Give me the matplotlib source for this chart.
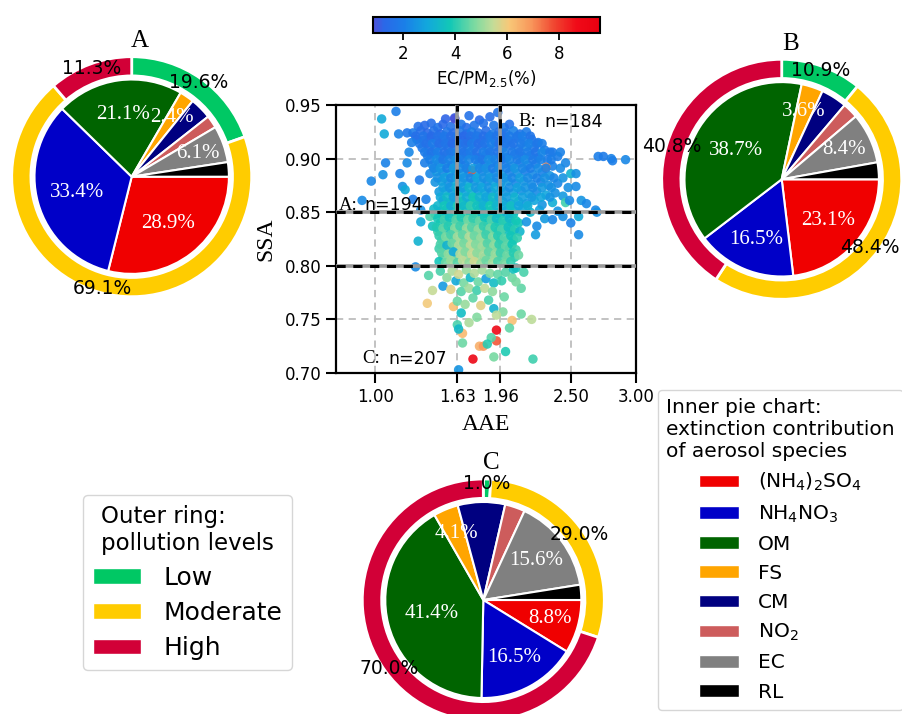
import matplotlib
matplotlib.use("Agg")
import matplotlib.pyplot as plt
from matplotlib.colors import LinearSegmentedColormap, Normalize
from matplotlib.patches import Patch
import numpy as np

# ---------------------------------------------------------------- data
species = [r"(NH$_4$)$_2$SO$_4$", r"NH$_4$NO$_3$", "OM", "FS", "CM", r"NO$_2$", "EC", "RL"]
species_colors = ["#f00000", "#0000c8", "#006400", "#ffa500", "#000080", "#cd5c5c", "#808080", "#000000"]
labelled_species = [0, 1, 2, 3, 6]

levels = ["Low", "Moderate", "High"]
level_colors = ["#00c864", "#ffcc00", "#d20037"]

# extinction contribution (%) of each species, per SSA/AAE class
inner_A = [28.9, 33.4, 21.1, 2.4, 3.6, 2.1, 6.1, 2.4]
inner_B = [23.1, 16.5, 38.7, 3.6, 4.3, 2.6, 8.4, 2.8]
inner_C = [8.8, 16.5, 41.4, 4.1, 7.8, 3.3, 15.6, 2.5]

# share (%) of pollution levels, per class
outer_A = [19.6, 69.1, 11.3]
outer_B = [10.9, 48.4, 40.8]
outer_C = [1.0, 29.0, 70.0]

class_counts = {"A": 194, "B": 184, "C": 207}
aae_splits = [1.63, 1.96]
ssa_splits = [0.80, 0.85]
aae_ticks = [1.00, 1.63, 1.96, 2.50, 3.00]
ssa_ticks = [0.70, 0.75, 0.80, 0.85, 0.90, 0.95]
ec_ticks = [2, 4, 6, 8]

# (AAE, SSA, EC/PM2.5 %) observations
top_edge = [
    (1.16, 0.944, 2.0), (1.05, 0.937, 3.0), (1.54, 0.937, 1.2), (1.61, 0.938, 1.1),
    (1.72, 0.940, 1.6), (1.80, 0.936, 1.4), (1.94, 0.943, 1.7), (1.88, 0.939, 1.5),
    (1.33, 0.930, 1.6), (1.38, 0.931, 1.4), (1.43, 0.933, 1.5), (1.48, 0.929, 1.7),
    (1.52, 0.932, 1.3), (1.58, 0.930, 1.6), (1.66, 0.932, 1.8), (1.70, 0.929, 1.5),
    (1.76, 0.931, 1.7), (1.83, 0.933, 1.6), (1.91, 0.931, 1.8), (1.99, 0.929, 1.9),
    (2.03, 0.932, 1.6),
]
top_blob = [
    (1.29, 0.924, 1.9), (1.35, 0.926, 1.5), (1.40, 0.924, 1.3), (1.45, 0.926, 1.6),
    (1.50, 0.923, 1.4), (1.55, 0.925, 1.7), (1.60, 0.924, 1.5), (1.65, 0.926, 1.8),
    (1.70, 0.923, 1.6), (1.74, 0.925, 2.0), (1.79, 0.924, 1.7), (1.85, 0.926, 1.5),
    (1.90, 0.923, 1.9), (1.95, 0.925, 1.6), (2.00, 0.924, 1.8), (2.06, 0.926, 2.1),
    (2.11, 0.923, 1.7), (2.16, 0.925, 1.9),
    (1.32, 0.918, 1.7), (1.37, 0.917, 1.6), (1.42, 0.919, 1.4), (1.47, 0.917, 1.8),
    (1.52, 0.918, 1.5), (1.57, 0.916, 1.7), (1.62, 0.919, 1.4), (1.67, 0.917, 1.9),
    (1.71, 0.916, 1.2), (1.76, 0.918, 1.8), (1.81, 0.917, 1.6), (1.86, 0.919, 2.0),
    (1.92, 0.916, 1.7), (1.97, 0.918, 1.9), (2.02, 0.917, 1.6), (2.08, 0.919, 1.8),
    (2.14, 0.916, 2.0), (2.20, 0.918, 1.7), (2.25, 0.915, 1.9),
    (1.36, 0.910, 1.8), (1.41, 0.911, 1.5), (1.46, 0.909, 1.7), (1.51, 0.912, 1.9),
    (1.56, 0.910, 1.6), (1.61, 0.911, 2.0), (1.66, 0.909, 1.7), (1.71, 0.911, 2.3),
    (1.76, 0.910, 1.8), (1.82, 0.912, 1.6), (1.87, 0.909, 2.1), (1.93, 0.911, 1.8),
    (1.98, 0.910, 2.0), (2.04, 0.912, 1.7), (2.10, 0.909, 1.9), (2.16, 0.911, 2.2),
    (2.22, 0.910, 1.8), (2.30, 0.908, 2.0), (2.36, 0.906, 1.9),
    (1.40, 0.903, 1.9), (1.45, 0.904, 2.2), (1.50, 0.902, 1.8), (1.55, 0.904, 2.4),
    (1.60, 0.903, 2.0), (1.65, 0.902, 2.6), (1.70, 0.904, 1.9), (1.75, 0.903, 2.2),
    (1.80, 0.901, 1.8), (1.85, 0.904, 2.0), (1.90, 0.902, 2.3), (1.96, 0.903, 1.9),
    (2.01, 0.901, 2.1), (2.07, 0.904, 1.8), (2.13, 0.902, 2.0), (2.19, 0.903, 1.7),
    (2.25, 0.901, 2.1), (2.32, 0.899, 1.9), (2.40, 0.902, 2.0), (2.46, 0.896, 2.2),
    (1.38, 0.896, 2.0), (1.44, 0.894, 2.3), (1.49, 0.896, 2.1), (1.54, 0.895, 2.7),
    (1.59, 0.894, 2.2), (1.64, 0.896, 2.5), (1.69, 0.894, 2.1), (1.79, 0.895, 2.4),
    (1.84, 0.894, 2.0), (1.89, 0.896, 2.6), (1.94, 0.894, 2.2), (1.99, 0.895, 2.0),
    (2.05, 0.893, 2.3), (2.11, 0.896, 1.9), (2.17, 0.894, 2.2), (2.23, 0.895, 2.0),
    (2.36, 0.893, 2.1), (2.42, 0.891, 2.3),
    (1.42, 0.886, 2.2), (1.47, 0.888, 2.6), (1.52, 0.887, 2.3), (1.57, 0.886, 2.9),
    (1.62, 0.888, 2.4), (1.67, 0.886, 2.7), (1.72, 0.887, 2.3), (1.77, 0.885, 2.8),
    (1.82, 0.888, 2.2), (1.87, 0.886, 2.5), (1.92, 0.887, 2.3), (1.97, 0.885, 2.6),
    (2.03, 0.887, 2.1), (2.09, 0.886, 2.4), (2.15, 0.888, 2.0), (2.21, 0.885, 2.3),
    (2.28, 0.887, 2.1), (2.34, 0.884, 2.5), (2.50, 0.886, 3.2), (2.54, 0.886, 2.4),
    (1.34, 0.880, 1.9), (1.46, 0.878, 2.5), (1.51, 0.879, 2.8), (1.56, 0.877, 2.4),
    (1.61, 0.879, 3.0), (1.66, 0.878, 2.6), (1.71, 0.877, 2.9), (1.76, 0.879, 2.5),
    (1.81, 0.877, 2.7), (1.86, 0.879, 2.3), (1.91, 0.878, 2.8), (1.96, 0.877, 2.4),
    (2.02, 0.879, 2.6), (2.08, 0.877, 2.2), (2.14, 0.879, 2.5), (2.20, 0.876, 2.3),
    (2.27, 0.878, 2.1), (2.33, 0.875, 2.4), (2.40, 0.877, 2.2), (2.48, 0.873, 2.4),
    (2.54, 0.874, 2.3),
    (1.49, 0.869, 2.7), (1.54, 0.870, 3.1), (1.59, 0.868, 2.8), (1.64, 0.870, 3.3),
    (1.69, 0.869, 2.9), (1.74, 0.867, 3.2), (1.79, 0.870, 2.7), (1.84, 0.868, 3.0),
    (1.89, 0.869, 2.6), (1.94, 0.867, 2.9), (2.00, 0.869, 2.5), (2.06, 0.868, 2.8),
    (2.12, 0.870, 2.4), (2.18, 0.867, 2.7), (2.24, 0.869, 2.3), (2.31, 0.866, 2.9),
    (2.38, 0.868, 2.4), (2.44, 0.865, 2.6),
    (1.29, 0.862, 2.0), (1.39, 0.862, 2.1), (1.52, 0.861, 3.0), (1.57, 0.859, 3.4),
    (1.62, 0.861, 3.1), (1.67, 0.860, 3.6), (1.72, 0.858, 3.2), (1.77, 0.861, 3.5),
    (1.82, 0.859, 3.0), (1.87, 0.861, 3.3), (1.92, 0.859, 2.9), (1.98, 0.860, 3.2),
    (2.04, 0.858, 2.8), (2.10, 0.860, 3.0), (2.16, 0.858, 2.6), (2.22, 0.861, 2.9),
    (2.28, 0.857, 2.5), (2.36, 0.859, 3.1), (2.46, 0.859, 4.2), (2.49, 0.861, 2.3),
    (2.58, 0.861, 2.5), (2.62, 0.858, 2.2),
    (1.35, 0.852, 2.4), (1.45, 0.853, 3.4), (1.50, 0.851, 3.2), (1.55, 0.853, 3.7),
    (1.60, 0.851, 3.3), (1.65, 0.853, 3.9), (1.70, 0.852, 3.5), (1.75, 0.850, 3.8),
    (1.80, 0.853, 3.4), (1.85, 0.851, 3.7), (1.90, 0.852, 3.2), (1.95, 0.850, 3.6),
    (2.01, 0.852, 3.1), (2.07, 0.851, 3.4), (2.13, 0.853, 3.0), (2.19, 0.850, 3.3),
    (2.26, 0.852, 2.8), (2.40, 0.851, 2.5), (2.69, 0.852, 2.2), (2.70, 0.850, 2.4),
    (1.74, 0.889, 7.6), (2.31, 0.892, 7.0), (1.71, 0.916, 1.0), (1.61, 0.937, 0.9),
]
# further observations inside the dense cores, listed as (SSA, AAE values, EC values)
top_rows = [
    (0.921, [1.31, 1.37, 1.43, 1.48, 1.53, 1.58, 1.63, 1.68, 1.73, 1.78, 1.83, 1.88, 1.93, 1.98, 2.03, 2.09, 2.13, 2.19],
            [1.5, 1.7, 1.4, 1.6, 1.8, 1.5, 1.7, 1.3, 1.6, 1.8, 1.5, 1.9, 1.7, 1.6, 1.9, 1.8, 2.0, 1.7]),
    (0.914, [1.34, 1.39, 1.44, 1.49, 1.54, 1.59, 1.64, 1.69, 1.74, 1.79, 1.84, 1.89, 1.95, 2.00, 2.06, 2.12, 2.18, 2.24, 2.28],
            [1.8, 1.6, 1.9, 1.5, 1.7, 1.4, 1.8, 1.6, 1.9, 1.5, 1.7, 2.0, 1.6, 1.8, 1.7, 1.9, 2.1, 1.8, 2.0]),
    (0.906, [1.38, 1.43, 1.48, 1.53, 1.58, 1.63, 1.68, 1.73, 1.78, 1.83, 1.88, 1.94, 1.99, 2.05, 2.11, 2.17, 2.23, 2.28, 2.34, 2.42],
            [1.9, 1.7, 2.0, 1.6, 1.8, 2.1, 1.7, 1.9, 1.6, 2.0, 1.8, 1.7, 2.1, 1.9, 1.8, 2.0, 1.7, 2.2, 1.9, 2.1]),
    (0.899, [1.42, 1.47, 1.52, 1.57, 1.62, 1.67, 1.72, 1.77, 1.82, 1.87, 1.92, 1.97, 2.03, 2.09, 2.15, 2.21, 2.27, 2.35],
            [2.0, 2.3, 1.8, 2.1, 2.4, 1.9, 2.2, 2.0, 1.8, 2.3, 2.1, 1.9, 2.2, 2.0, 2.3, 1.9, 2.1, 2.0]),
    (0.891, [1.45, 1.50, 1.55, 1.60, 1.65, 1.70, 1.75, 1.80, 1.85, 1.90, 1.95, 2.01, 2.07, 2.13, 2.19, 2.25, 2.31],
            [2.2, 2.5, 2.0, 2.6, 2.3, 2.1, 2.7, 2.2, 2.4, 2.0, 2.3, 2.1, 2.5, 2.2, 2.0, 2.3, 2.1]),
    (0.882, [1.48, 1.53, 1.58, 1.63, 1.68, 1.73, 1.78, 1.83, 1.88, 1.93, 1.99, 2.05, 2.11, 2.17, 2.24, 2.30, 2.37, 2.44],
            [2.4, 2.7, 2.3, 2.8, 2.5, 2.2, 2.9, 2.4, 2.6, 2.3, 2.5, 2.2, 2.7, 2.3, 2.1, 2.4, 2.2, 2.5]),
    (0.873, [1.52, 1.57, 1.62, 1.67, 1.72, 1.77, 1.82, 1.87, 1.92, 1.97, 2.03, 2.09, 2.15, 2.21, 2.28, 2.35],
            [2.8, 2.5, 3.1, 2.7, 3.3, 2.6, 2.9, 2.5, 3.0, 2.7, 2.4, 2.8, 2.5, 2.3, 2.6, 2.4]),
    (0.864, [1.50, 1.55, 1.60, 1.65, 1.70, 1.75, 1.80, 1.85, 1.90, 1.95, 2.01, 2.07, 2.13, 2.20, 2.27, 2.34],
            [3.0, 3.4, 2.8, 3.6, 3.1, 3.8, 3.2, 2.9, 3.4, 3.0, 2.7, 3.2, 2.8, 2.6, 2.9, 2.5]),
    (0.856, [1.48, 1.53, 1.58, 1.63, 1.68, 1.73, 1.78, 1.83, 1.88, 1.93, 1.98, 2.04, 2.10, 2.17],
            [3.3, 3.7, 3.1, 3.9, 3.4, 4.1, 3.6, 3.2, 3.8, 3.3, 3.0, 3.5, 2.9, 3.1]),
]
mid_rows = [
    (0.848, [1.46, 1.51, 1.55, 1.60, 1.64, 1.69, 1.73, 1.78, 1.82, 1.87, 1.91, 1.96, 2.01, 2.06],
            [3.6, 4.0, 3.4, 4.3, 3.8, 4.5, 3.9, 4.2, 3.5, 4.0, 3.3, 3.8, 3.2, 3.6]),
    (0.840, [1.50, 1.54, 1.59, 1.63, 1.68, 1.72, 1.77, 1.81, 1.86, 1.90, 1.95, 2.00, 2.05, 2.10],
            [4.0, 3.5, 4.4, 4.7, 4.1, 5.0, 4.3, 4.6, 3.8, 4.4, 3.6, 4.1, 3.4, 3.7]),
    (0.832, [1.48, 1.52, 1.57, 1.61, 1.66, 1.70, 1.75, 1.79, 1.84, 1.88, 1.93, 1.97, 2.02, 2.06],
            [4.2, 4.6, 3.4, 4.9, 4.4, 5.2, 4.5, 4.8, 4.0, 4.6, 3.8, 4.2, 3.5, 3.9]),
    (0.824, [1.51, 1.56, 1.60, 1.65, 1.69, 1.74, 1.78, 1.83, 1.87, 1.92, 1.96, 2.01, 2.06],
            [4.5, 4.9, 4.2, 5.2, 4.6, 5.5, 4.8, 5.0, 4.3, 4.9, 4.0, 4.4, 3.9]),
    (0.816, [1.49, 1.53, 1.58, 1.62, 1.67, 1.71, 1.76, 1.80, 1.85, 1.89, 1.94, 1.98, 2.03],
            [4.2, 4.7, 5.0, 4.4, 5.4, 4.8, 5.6, 4.9, 4.5, 5.1, 4.2, 4.6, 3.8]),
    (0.808, [1.52, 1.57, 1.61, 1.66, 1.70, 1.75, 1.79, 1.84, 1.88, 1.93, 1.97, 2.02, 2.07],
            [4.6, 5.1, 4.4, 5.5, 4.9, 5.7, 5.0, 4.3, 4.8, 5.2, 4.4, 4.7, 4.1]),
]
left_outliers = [
    (1.07, 0.923, 3.0), (1.18, 0.923, 2.1), (1.245, 0.924, 1.8), (1.28, 0.915, 2.0),
    (1.26, 0.906, 2.2), (1.08, 0.896, 2.1), (1.245, 0.896, 2.3), (1.06, 0.885, 2.4),
    (0.97, 0.879, 2.2), (1.19, 0.886, 2.1), (1.21, 0.874, 2.4), (1.23, 0.871, 3.0),
    (0.90, 0.861, 2.3),
]
right_tail = [
    (2.71, 0.902, 2.0), (2.75, 0.902, 1.9), (2.81, 0.900, 2.1), (2.82, 0.898, 2.0),
    (2.92, 0.899, 2.2),
]
mid_band = [
    (2.16, 0.841, 2.5), (2.24, 0.837, 2.3), (2.30, 0.844, 2.6), (2.36, 0.843, 2.2),
    (2.44, 0.846, 2.4), (2.50, 0.840, 2.1), (2.56, 0.846, 3.0), (2.56, 0.829, 2.3),
    (2.23, 0.829, 2.7), (1.35, 0.841, 3.0), (1.42, 0.846, 4.3), (1.44, 0.837, 3.6),
    (1.33, 0.823, 3.2),
    (1.48, 0.844, 3.8), (1.53, 0.843, 4.2), (1.57, 0.845, 3.6), (1.62, 0.843, 4.4),
    (1.66, 0.845, 3.9), (1.71, 0.843, 4.6), (1.75, 0.844, 4.1), (1.80, 0.842, 4.5),
    (1.84, 0.845, 3.7), (1.89, 0.843, 4.3), (1.93, 0.844, 3.5), (1.98, 0.842, 4.0),
    (2.03, 0.844, 3.4), (2.08, 0.842, 3.8),
    (1.47, 0.836, 3.9), (1.52, 0.835, 4.5), (1.56, 0.837, 4.0), (1.61, 0.835, 4.8),
    (1.65, 0.837, 4.2), (1.70, 0.835, 5.0), (1.74, 0.836, 4.4), (1.79, 0.834, 4.9),
    (1.83, 0.837, 4.1), (1.88, 0.835, 4.6), (1.92, 0.836, 3.9), (1.97, 0.834, 4.3),
    (2.02, 0.836, 3.6), (2.07, 0.834, 4.0), (2.11, 0.832, 3.3),
    (1.49, 0.828, 4.1), (1.54, 0.827, 4.7), (1.58, 0.829, 4.3), (1.63, 0.827, 5.1),
    (1.67, 0.829, 4.5), (1.72, 0.827, 5.3), (1.76, 0.828, 4.6), (1.81, 0.826, 5.0),
    (1.85, 0.829, 4.2), (1.90, 0.827, 4.8), (1.94, 0.828, 4.0), (1.99, 0.826, 4.4),
    (2.04, 0.828, 3.7), (2.09, 0.826, 4.1),
    (1.50, 0.820, 4.3), (1.55, 0.819, 3.2), (1.59, 0.821, 4.6), (1.64, 0.819, 5.2),
    (1.68, 0.821, 4.7), (1.73, 0.819, 5.4), (1.77, 0.820, 4.8), (1.82, 0.818, 5.1),
    (1.86, 0.821, 4.4), (1.91, 0.819, 4.9), (1.95, 0.820, 4.1), (2.00, 0.818, 4.5),
    (2.05, 0.820, 3.8), (2.08, 0.815, 4.2),
    (1.51, 0.812, 4.4), (1.56, 0.811, 4.9), (1.60, 0.813, 3.0), (1.65, 0.811, 5.3),
    (1.69, 0.813, 4.8), (1.74, 0.811, 5.5), (1.78, 0.812, 4.9), (1.83, 0.810, 5.2),
    (1.87, 0.813, 4.5), (1.92, 0.811, 5.0), (1.96, 0.812, 4.2), (2.01, 0.810, 4.6),
    (2.06, 0.812, 4.0), (2.10, 0.810, 4.6),
    (1.49, 0.804, 3.7), (1.54, 0.803, 4.6), (1.58, 0.805, 5.0), (1.63, 0.803, 4.4),
    (1.67, 0.805, 5.4), (1.72, 0.803, 4.9), (1.76, 0.804, 5.6), (1.81, 0.802, 5.0),
    (1.85, 0.805, 4.6), (1.90, 0.803, 5.1), (1.94, 0.804, 4.3), (1.99, 0.802, 4.7),
    (2.04, 0.804, 4.1), (2.08, 0.798, 3.6),
]
low_band = [
    (1.31, 0.799, 2.3), (1.41, 0.791, 4.4), (1.44, 0.777, 5.5), (1.52, 0.781, 2.6),
    (1.50, 0.795, 4.3), (1.55, 0.789, 4.9), (1.59, 0.795, 5.2), (1.62, 0.786, 3.0),
    (1.64, 0.792, 5.6), (1.68, 0.784, 4.7), (1.70, 0.796, 5.0), (1.73, 0.789, 3.4),
    (1.76, 0.793, 5.3), (1.79, 0.785, 4.6), (1.82, 0.796, 5.1), (1.85, 0.788, 2.8),
    (1.88, 0.793, 4.8), (1.91, 0.784, 3.5), (1.94, 0.792, 4.5), (1.97, 0.786, 4.1),
    (2.00, 0.794, 4.4), (2.05, 0.789, 4.6), (2.06, 0.797, 3.6), (2.14, 0.794, 4.3),
    (2.12, 0.779, 4.5), (2.08, 0.785, 4.7), (1.99, 0.771, 4.6), (1.58, 0.778, 5.8),
    (1.66, 0.776, 4.4), (1.72, 0.779, 5.1), (1.78, 0.777, 4.2), (1.84, 0.779, 5.4),
    (1.90, 0.776, 4.9),
    (1.40, 0.765, 6.0), (1.60, 0.762, 6.2), (1.63, 0.767, 4.6), (1.69, 0.764, 5.0),
    (1.75, 0.770, 4.5), (1.81, 0.763, 5.8), (1.87, 0.768, 4.3), (1.91, 0.760, 3.2),
    (1.98, 0.757, 4.8), (1.93, 0.754, 5.4), (2.12, 0.755, 4.6), (2.20, 0.750, 5.4),
    (2.05, 0.749, 6.2), (1.66, 0.756, 3.5), (1.78, 0.752, 4.8),
]
tail_band = [
    (1.63, 0.745, 4.3), (1.67, 0.737, 6.3), (1.64, 0.741, 3.4), (1.67, 0.728, 4.6),
    (1.80, 0.725, 6.5), (1.83, 0.725, 6.9), (1.75, 0.713, 9.0), (1.93, 0.740, 8.9),
    (1.93, 0.730, 7.6), (1.89, 0.733, 4.4), (2.03, 0.742, 4.5), (2.00, 0.720, 3.9),
    (1.91, 0.715, 4.7), (2.21, 0.713, 4.2), (1.64, 0.703, 2.5), (1.86, 0.727, 4.0),
    (1.72, 0.747, 5.2),
]

# ---------------------------------------------------------------- layout helpers
W, H = 902, 714
fig = plt.figure(figsize=(W / 100, H / 100), dpi=100)
SERIF = "Liberation Serif"
INNER_R = 0.81
ring_labels = []


def rect(left, top, width, height):
    return [left / W, 1 - (top + height) / H, width / W, height / H]


def donut(cx, cy, r, inner, outer, name):
    ax = fig.add_axes(rect(cx - r, cy - r, 2 * r, 2 * r))
    wedges, _, inner_txt = ax.pie(
        inner, colors=species_colors, radius=INNER_R, startangle=0, counterclock=False,
        autopct="%.1f%%", pctdistance=0.6,
        wedgeprops=dict(edgecolor="white", linewidth=1.5),
        textprops=dict(color="white", family=SERIF, fontsize=15))
    for i, (w, t) in enumerate(zip(wedges, inner_txt)):
        if i not in labelled_species:
            t.set_text("")
            continue
        # narrow wedges get their label pushed further out
        share = inner[i]
        dist = max(0.54, 0.75 - 0.005 * share) * INNER_R
        mid = np.deg2rad(0.5 * (w.theta1 + w.theta2))
        t.set_position((dist * np.cos(mid), dist * np.sin(mid)))
    _, _, outer_txt = ax.pie(
        outer, colors=level_colors, radius=1.0, startangle=90, counterclock=False,
        autopct="%.1f%%", pctdistance=0.96,
        wedgeprops=dict(width=0.16, edgecolor="white", linewidth=2),
        textprops=dict(color="black", fontsize=13.5))
    ring_labels.extend(outer_txt)
    ax.set_xlim(-1, 1)
    ax.set_ylim(-1, 1)
    ax.set_aspect("equal")
    ax.text(0.07, 1.13, name, ha="center", va="center", family=SERIF, fontsize=18)
    return ax


donut(131.7, 176.7, 120, inner_A, outer_A, "A")
donut(781.7, 179.3, 120, inner_B, outer_B, "B")
donut(483.3, 600.0, 121, inner_C, outer_C, "C")

# ---------------------------------------------------------------- scatter
rows = []
for y, xs, cs in top_rows + mid_rows:
    rows += [(x, y, c) for x, c in zip(xs, cs)]
pts = np.array(top_edge + top_blob + rows + left_outliers + right_tail
               + mid_band + low_band + tail_band)
aae, ssa, ec = pts[:, 0], pts[:, 1], pts[:, 2]

cmap = LinearSegmentedColormap.from_list("ec", [
    (0.00, "#5050d8"), (0.05, "#2a68e8"), (0.14, "#1a80e8"), (0.24, "#12a8dc"),
    (0.34, "#12c8b6"), (0.45, "#7edaa0"), (0.53, "#c4dc98"), (0.60, "#f8c878"),
    (0.70, "#f8955a"), (0.80, "#f04530"), (0.90, "#f00a18"), (1.00, "#e80010")])
norm = Normalize(vmin=0.82, vmax=9.58)

ax = fig.add_axes(rect(336, 105, 300, 268))
sc = ax.scatter(aae, ssa, c=ec, cmap=cmap, norm=norm, s=46, alpha=0.9,
                edgecolors="none", zorder=2)
ax.set_xlim(0.7, 3.0)
ax.set_ylim(0.70, 0.95)
ax.set_xticks(aae_ticks)
ax.set_xticklabels([f"{v:.2f}" for v in aae_ticks], fontsize=12)
ax.set_yticks(ssa_ticks)
ax.set_yticklabels([f"{v:.2f}" for v in ssa_ticks], fontsize=12)
ax.grid(True, linestyle=(0, (4, 3)), color="#bdbdbd", linewidth=1.3, zorder=0)
ax.set_axisbelow(True)
ax.tick_params(direction="out", length=7, width=1.5)
for s in ax.spines.values():
    s.set_linewidth(1.6)

dash = dict(color="black", linewidth=2.2, linestyle=(0, (3, 2.5)), zorder=3)
under = dict(color="#9a9a9a", linewidth=2.6, zorder=2.9)
for y in ssa_splits:
    ax.axhline(y, **under)
    ax.axhline(y, **dash)
for x in aae_splits:
    ax.plot([x, x], [ssa_splits[1], 0.95], **under)
    ax.plot([x, x], [ssa_splits[1], 0.95], **dash)

ax.set_xlabel("AAE", family=SERIF, fontsize=17, labelpad=6)
ax.set_ylabel("SSA", family=SERIF, fontsize=17, labelpad=6)

for key, (xs, xn, y) in {"A": (0.72, 0.915, 0.8565),
                         "B": (2.10, 2.30, 0.9344),
                         "C": (0.90, 1.10, 0.7135)}.items():
    ax.text(xs, y, f"{key}:", family=SERIF, fontsize=13.5, ha="left", va="center", zorder=4)
    ax.text(xn, y, f"n={class_counts[key]}", fontsize=12.5, ha="left", va="center", zorder=4)

cax = fig.add_axes(rect(372.7, 16.7, 227.3, 16))
cb = fig.colorbar(sc, cax=cax, orientation="horizontal")
cb.solids.set(alpha=1)
cb.set_ticks(ec_ticks)
cb.ax.tick_params(labelsize=12, length=5, width=1.3)
cb.set_label("EC/PM$_{2.5}$(%)", fontsize=12)
cb.outline.set_linewidth(1.5)

# ---------------------------------------------------------------- legends
level_handles = [Patch(facecolor=c, edgecolor="white") for c in level_colors]
fig.legend(level_handles, levels, title="Outer ring:\npollution levels",
           loc="upper left", bbox_to_anchor=(83 / W, 1 - 495 / H), borderaxespad=0,
           fontsize=18, title_fontsize=16.5, handlelength=1.9, handleheight=0.6,
           handletextpad=0.9, labelspacing=0.45)

species_handles = [Patch(facecolor=c, edgecolor="white") for c in species_colors]
fig.legend(species_handles, species,
           title="Inner pie chart:\nextinction contribution\nof aerosol species",
           loc="upper left", bbox_to_anchor=(658 / W, 1 - 390 / H), borderaxespad=0,
           fontsize=14.5, title_fontsize=14.5, handlelength=1.95, handleheight=0.6,
           handletextpad=0.95, labelspacing=0.5)

# keep ring percentages that sit at the figure's right edge fully inside it
fig.canvas.draw()
renderer = fig.canvas.get_renderer()
for t in ring_labels:
    bb = t.get_window_extent(renderer)
    overflow = bb.x1 - (W - 2)
    if overflow > 0:
        trans = t.get_transform()
        x_disp, y_disp = trans.transform(t.get_position())
        t.set_position(trans.inverted().transform((x_disp - overflow, y_disp)))

fig.savefig("out.png", dpi=100)
